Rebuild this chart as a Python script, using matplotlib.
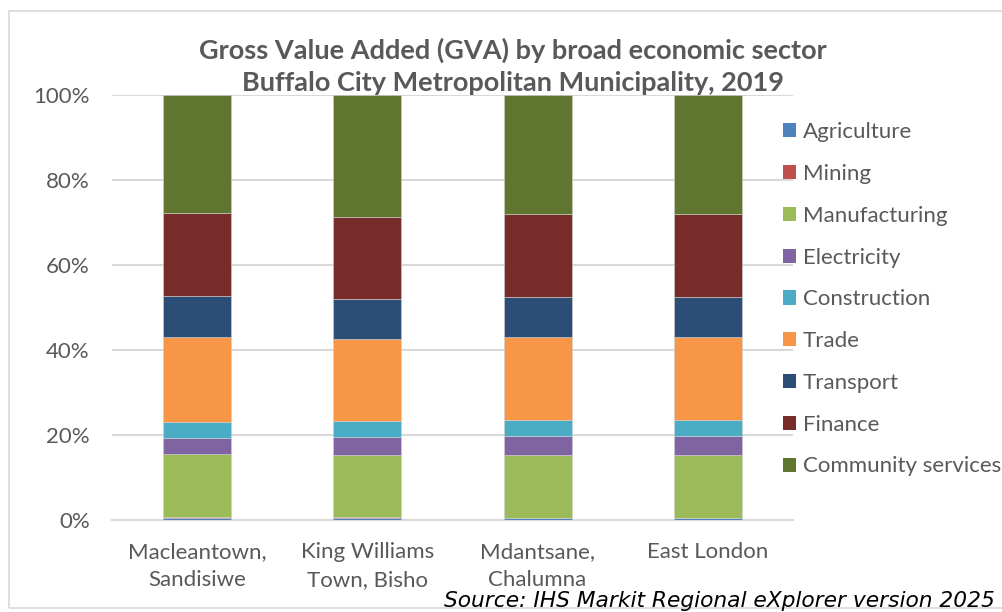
import numpy as np
import matplotlib.pyplot as plt
from matplotlib.patches import Rectangle, Patch

# GVA share (%) per sector for each region, 2019
regions = ["Macleantown,\nSandisiwe", "King Williams\nTown, Bisho",
           "Mdantsane,\nChalumna", "East London"]
sectors = ["Agriculture", "Mining", "Manufacturing", "Electricity", "Construction",
           "Trade", "Transport", "Finance", "Community services"]

agriculture = [0.5, 0.5, 0.4, 0.4]
mining = [0.1, 0.1, 0.1, 0.1]
manufacturing = [14.9, 14.7, 14.9, 14.9]
electricity = [3.9, 4.2, 4.4, 4.4]
construction = [3.7, 3.9, 3.8, 3.8]
trade = [19.9, 19.3, 19.4, 19.5]
transport = [9.6, 9.3, 9.4, 9.3]
finance = [19.6, 19.4, 19.5, 19.5]
community = [27.8, 28.6, 28.1, 28.1]

colors = ["#4F81BD", "#C0504D", "#9BBB59", "#8064A2", "#4BACC6",
          "#F79646", "#2C4D75", "#772C2A", "#5F7530"]

series = [agriculture, mining, manufacturing, electricity, construction,
          trade, transport, finance, community]

txt = "#595959"
font = "Lato"

fig = plt.figure(figsize=(10.02, 6.12), dpi=100)
ax = fig.add_axes([0.1118, 0.1503, 0.6796, 0.6945])

x = np.arange(len(regions))
bottom = np.zeros(len(regions))
for vals, c in zip(series, colors):
    vals = np.array(vals)
    ax.bar(x, vals, bottom=bottom, width=0.4, color=c,
           edgecolor="#d0d0d0", linewidth=0.4, zorder=3)
    bottom += vals

ax.set_xlim(-0.5, len(regions) - 0.5)
ax.set_ylim(0, 100)
ax.set_yticks(np.arange(0, 101, 20))
ax.set_yticklabels([f"{v}%" for v in range(0, 101, 20)])
ax.set_xticks(x)
ax.set_xticklabels(regions, linespacing=1.5)
ax.grid(axis="y", color="#D9D9D9", linewidth=1.5, zorder=0)
ax.tick_params(length=0, labelsize=16, labelcolor=txt)
ax.tick_params(axis="x", pad=16)
ax.tick_params(axis="y", pad=16)
for lab in ax.get_xticklabels() + ax.get_yticklabels():
    lab.set_fontfamily(font)
for side in ["top", "right", "left"]:
    ax.spines[side].set_visible(False)
ax.spines["bottom"].set_color("#D9D9D9")
ax.spines["bottom"].set_linewidth(1.5)

handles = [Patch(facecolor=c, label=s) for s, c in zip(sectors, colors)]
leg = fig.legend(handles=handles, loc="upper left", bbox_to_anchor=(0.7615, 0.833),
                 frameon=False, handlelength=0.6, handleheight=0.6,
                 handletextpad=0.3, labelspacing=0.98,
                 prop={"family": font, "size": 16})
for t in leg.get_texts():
    t.set_color(txt)

fig.text(0.512, 0.917, "Gross Value Added (GVA) by broad economic sector",
         ha="center", va="center", fontsize=19.5, fontweight="bold",
         color=txt, family=font)
fig.text(0.512, 0.865, "Buffalo City Metropolitan Municipality, 2019",
         ha="center", va="center", fontsize=19.5, fontweight="bold",
         color=txt, family=font)

fig.text(0.993, 0.018, "Source: IHS Markit Regional eXplorer version 2025",
         ha="right", va="center", fontsize=15.7, style="italic",
         color="black", family="DejaVu Sans")

# chart frame
fig.patches.append(Rectangle((0.009, 0.007), 1.2, 0.975, transform=fig.transFigure,
                             fill=False, edgecolor="#D9D9D9", linewidth=1.2))

fig.savefig("out.png", dpi=100)
